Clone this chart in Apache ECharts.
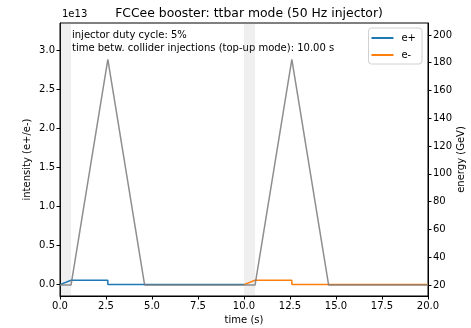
<!DOCTYPE html>
<html>
<head>
<meta charset="utf-8">
<script src="https://cdn.jsdelivr.net/npm/echarts@6/dist/echarts.min.js"></script>
<style>
  html, body { margin: 0; padding: 0; background: #fff; }
  #chart { width: 471px; height: 328px; }
</style>
</head>
<body>
<div id="chart"></div>
<script>
// intensity in units of 1e13
const posTime = [0, 0.6, 2.6, 2.6, 10];
const posIntensity = [0, 0.057, 0.057, 0.003, 0.003];
const eleTime = [10, 10.6, 12.6, 12.6, 20];
const eleIntensity = [0, 0.057, 0.057, 0.003, 0.003];
const energyTime = [0, 0.6, 2.6, 4.6, 10.6, 12.6, 14.6, 20];
const energyGeV = [20, 20, 182.5, 20, 20, 182.5, 20, 20];
const injectionWindows = [[0, 0.6], [10, 10.6]];
const leftTicks = [0, 0.5, 1, 1.5, 2, 2.5, 3];
const rightTicks = [20, 40, 60, 80, 100, 120, 140, 160, 180, 200];

const zip = (xs, ys) => xs.map((x, i) => [x, ys[i]]);
const font = "DejaVu Sans";

const chart = echarts.init(document.getElementById("chart"));
chart.setOption({
  animation: false,
  textStyle: { fontFamily: font },
  title: {
    text: "FCCee booster: ttbar mode (50 Hz injector)",
    left: 244, top: 3, textAlign: "center",
    textStyle: { fontFamily: font, fontSize: 12.4, fontWeight: "normal", color: "#000" }
  },
  graphic: [
    { type: "text", left: 62, top: 9, style: { text: "1e13", font: "10px DejaVu Sans", fill: "#000" } },
    { type: "text", left: 72, top: 29,
      style: { text: "injector duty cycle: 5%\ntime betw. collider injections (top-up mode): 10.00 s",
               font: "10px DejaVu Sans", fill: "#000", lineHeight: 13 } }
  ],
  legend: {
    data: ["e+", "e-"],
    orient: "vertical", right: 49, top: 28,
    backgroundColor: "#fff", borderColor: "#d0d0d0", borderWidth: 1, borderRadius: 3,
    padding: [5, 6, 4, 3], itemGap: 7, itemWidth: 22, itemHeight: 2, icon: "rect",
    textStyle: { fontFamily: font, fontSize: 10, color: "#000", padding: [0, 0, 0, 3] }
  },
  grid: { left: 60, right: 43, top: 23, bottom: 32, show: true, borderColor: "#000", borderWidth: 1,
          outerBoundsMode: "none", containLabel: false },
  xAxis: {
    type: "value", min: 0, max: 20, interval: 2.5,
    name: "time (s)", nameLocation: "middle", nameGap: 19, nameMoveOverlap: false,
    nameTextStyle: { fontFamily: font, fontSize: 10, color: "#000" },
    axisLine: { onZero: false, lineStyle: { color: "#000" } },
    axisTick: { show: true, length: 3.5, lineStyle: { color: "#000" } },
    axisLabel: { fontFamily: font, fontSize: 10, color: "#000", margin: 5,
                 formatter: v => v.toFixed(1) },
    splitLine: { show: false }
  },
  yAxis: [
    {
      type: "value", min: -0.145, max: 3.345,
      name: "intensity (e+/e-)", nameLocation: "middle", nameGap: 28, nameMoveOverlap: false,
      nameTextStyle: { fontFamily: font, fontSize: 10, color: "#000" },
      axisLine: { show: true, lineStyle: { color: "#000" } },
      axisTick: { show: true, length: 3.5, customValues: leftTicks, lineStyle: { color: "#000" } },
      axisLabel: { fontFamily: font, fontSize: 10, color: "#000", margin: 5,
                   customValues: leftTicks, formatter: v => v.toFixed(1) },
      splitLine: { show: false }
    },
    {
      type: "value", min: 12.1, max: 208.6, position: "right",
      name: "energy (GeV)", nameLocation: "middle", nameGap: 28, nameRotate: 90, nameMoveOverlap: false,
      nameTextStyle: { fontFamily: font, fontSize: 10, color: "#000" },
      axisLine: { show: true, lineStyle: { color: "#000" } },
      axisTick: { show: true, length: 3.5, customValues: rightTicks, lineStyle: { color: "#000" } },
      axisLabel: { fontFamily: font, fontSize: 10, color: "#000", margin: 5,
                   customValues: rightTicks },
      splitLine: { show: false }
    }
  ],
  series: [
    {
      name: "e+", type: "line", yAxisIndex: 0, showSymbol: false,
      data: zip(posTime, posIntensity),
      lineStyle: { color: "#1f77b4", width: 1.5 }, itemStyle: { color: "#1f77b4" },
      markArea: {
        silent: true,
        itemStyle: { color: "rgba(128,128,128,0.13)" },
        data: injectionWindows.map(w => [{ xAxis: w[0] }, { xAxis: w[1] }])
      }
    },
    {
      name: "e-", type: "line", yAxisIndex: 0, showSymbol: false,
      data: zip(eleTime, eleIntensity),
      lineStyle: { color: "#ff7f0e", width: 1.5 }, itemStyle: { color: "#ff7f0e" }
    },
    {
      name: "energy", type: "line", yAxisIndex: 1, showSymbol: false,
      data: zip(energyTime, energyGeV),
      lineStyle: { color: "#7a7a7a", width: 1.5, opacity: 0.85 }, itemStyle: { color: "#7a7a7a" }
    }
  ]
});
</script>
</body>
</html>
